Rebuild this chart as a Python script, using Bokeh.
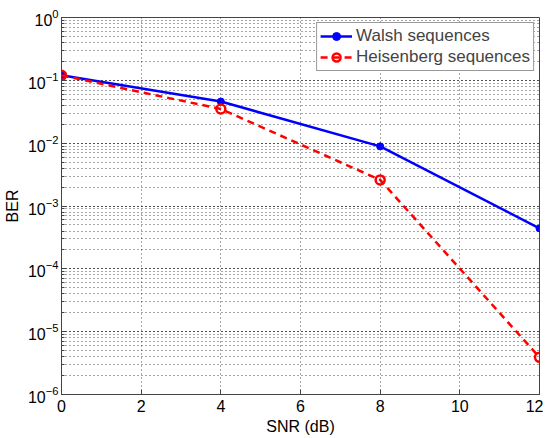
from bokeh.plotting import figure
from bokeh.models import Range1d, FixedTicker, Legend, LegendItem
from bokeh.embed import file_html
from bokeh.resources import INLINE

snr = [0, 4, 8, 12]
ber_walsh = [0.12, 0.046, 0.0089, 0.00044]
ber_heis = [0.12, 0.035, 0.0026, 3.9e-6]
x_ticks = [0, 2, 4, 6, 8, 10, 12]

FONT = "Liberation Sans"

p = figure(frame_width=478, frame_height=377, y_axis_type="log",
           x_range=Range1d(0, 12), y_range=Range1d(1e-6, 1),
           output_backend="svg", toolbar_location=None,
           min_border_left=57, min_border_top=17, min_border_right=4, min_border_bottom=30)
p.outline_line_color = "#444444"
p.outline_line_width = 1
p.background_fill_color = "white"
p.border_fill_color = "white"

# grids
for g in (p.xgrid, p.ygrid):
    g.grid_line_color = "#222222"
    g.grid_line_dash = "1 3"
    g.grid_line_width = 1
    g.grid_line_alpha = 0.8
p.ygrid.minor_grid_line_color = "#222222"
p.ygrid.minor_grid_line_dash = "1 3"
p.ygrid.minor_grid_line_alpha = 0.8
p.xaxis.ticker = FixedTicker(ticks=x_ticks)

for ax in (p.xaxis[0], p.yaxis[0]):
    ax.major_tick_in = 5
    ax.major_tick_out = 0
    ax.minor_tick_in = 3
    ax.minor_tick_out = 0
    ax.axis_line_color = "#444444"
    ax.major_tick_line_color = "#444444"
    ax.minor_tick_line_color = "#444444"
    ax.major_label_text_font = FONT
    ax.major_label_text_font_size = "16px"
    ax.major_label_text_color = "black"
    ax.axis_label_text_font = FONT
    ax.axis_label_text_font_size = "16px"
    ax.axis_label_text_font_style = "normal"
    ax.axis_label_text_color = "black"
p.xaxis.axis_label = "SNR (dB)"
p.yaxis.axis_label = "BER"
p.xaxis.major_label_standoff = 5
p.xaxis.axis_label_standoff = 3
p.yaxis.major_label_standoff = 3
p.yaxis.axis_label_standoff = 4

l1 = p.line(snr, ber_walsh, line_color="blue", line_width=2.5)
m1 = p.scatter(snr, ber_walsh, marker="circle", size=7, fill_color="blue", line_color="blue")
l2 = p.line(snr, ber_heis, line_color="red", line_width=2.5, line_dash="7 5")
m2 = p.scatter(snr, ber_heis, marker="circle", size=9, fill_color="white", fill_alpha=0.0,
               line_color="red", line_width=2.5)

legend = Legend(items=[LegendItem(label="Walsh sequences", renderers=[l1, m1]),
                       LegendItem(label="Heisenberg sequences", renderers=[l2, m2])],
                location="top_right")
legend.label_text_font = FONT
legend.label_text_font_size = "17px"
legend.border_line_color = "#333333"
legend.border_line_width = 1
legend.background_fill_alpha = 1.0
legend.margin = 5
legend.padding = 3
legend.spacing = 1
legend.glyph_width = 32
legend.glyph_height = 20
legend.label_height = 20
legend.label_standoff = 4
p.add_layout(legend, "center")

open("out.html", "w").write(file_html(p, INLINE))
